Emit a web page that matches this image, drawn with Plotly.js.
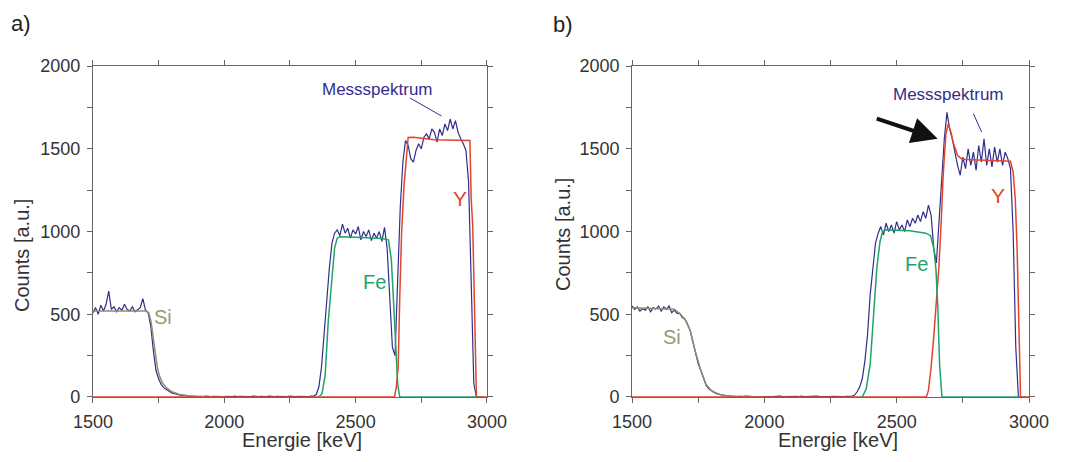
<!DOCTYPE html>
<html>
<head>
<meta charset="utf-8">
<script src="https://cdn.plot.ly/plotly-3.0.1.min.js"></script>
<style>html,body{margin:0;padding:0;background:#fff;}#chart{width:1066px;height:462px;}</style>
</head>
<body>
<div id="chart"></div>
<script>
// Measured spectra: channels start at 1500 keV, 10 keV per channel
var channelStart = 1500;
var channelStep = 10;

var measuredA = [
  510,540,500,555,520,560,640,530,545,515,
  540,525,560,530,520,545,515,530,540,595,
  525,510,430,280,160,110,75,55,45,30,
  25,20,15,12,8,10,5,6,4,5,
  3,4,2,5,3,2,4,3,5,2,
  3,4,2,3,5,2,4,3,2,4,
  3,5,2,3,4,2,3,5,3,2,
  4,3,2,4,3,5,2,3,4,3,
  2,4,3,5,5,15,60,180,380,600,
  780,930,990,1010,975,1045,990,1020,960,1010,
  985,1030,950,1000,970,1010,945,990,960,1000,
  940,1025,900,600,300,250,700,1150,1420,1550,
  1520,1440,1420,1490,1530,1500,1570,1590,1560,1620,
  1600,1540,1620,1580,1650,1610,1680,1620,1670,1600,
  1560,1530,1490,1300,700,80,0,0,0,0
];

var measuredB = [
  550,530,545,520,535,525,545,515,540,530,
  550,520,545,530,550,510,525,505,505,480,
  470,440,400,330,270,200,160,110,70,50,
  38,28,20,15,10,8,7,5,4,5,
  3,4,2,5,3,4,2,3,5,3,
  2,4,3,2,4,3,5,2,3,4,
  3,2,4,3,5,2,3,4,2,3,
  5,3,2,4,3,2,4,3,5,3,
  2,4,3,5,10,30,60,110,220,380,
  620,800,930,990,1030,980,1050,1000,1040,990,
  1060,1010,1040,1000,1070,1030,1080,1050,1100,1060,
  1120,1080,1160,1100,900,810,1050,1350,1560,1720,
  1620,1560,1470,1400,1340,1450,1380,1500,1400,1480,
  1370,1520,1420,1560,1400,1500,1390,1510,1420,1500,
  1400,1480,1440,1380,1000,300,0,0,0,0
];

// Simulated element contributions, panel a)
var siA_E = [1500,1700,1712,1722,1730,1738,1746,1755,1765,1780,1800,1830,1870,1920,2000];
var siA_C = [520,520,510,450,350,250,170,120,85,55,32,15,6,2,0];
var feA_E = [2360,2372,2384,2396,2408,2420,2430,2440,2500,2600,2625,2636,2645,2652,2660,2668,2965];
var feA_C = [0,20,130,460,680,900,960,968,965,958,950,830,560,300,80,0,0];
var yA_E = [1500,2648,2655,2662,2668,2675,2684,2692,2700,2720,2800,2935,2940,2946,2953,2960,3000];
var yA_C = [0,0,60,181,600,988,1270,1451,1568,1570,1555,1550,1200,1028,383,0,0];

// Simulated element contributions, panel b)
var siB_E = [1500,1660,1680,1700,1720,1740,1760,1780,1800,1830,1870,1950,2000];
var siB_C = [540,530,505,470,400,270,160,75,38,15,5,1,0];
var feB_E = [2370,2385,2400,2412,2425,2437,2447,2460,2550,2610,2628,2640,2648,2655,2662,2671,2965];
var feB_C = [0,50,200,500,780,940,1000,1010,1005,990,975,900,780,560,200,0,0];
var yB_E = [1500,2612,2620,2630,2640,2650,2660,2668,2676,2686,2695,2705,2715,2730,2745,2760,2930,2940,2948,2955,2962,2968,3000];
var yB_C = [0,0,40,180,360,560,800,1050,1350,1590,1650,1600,1530,1460,1440,1435,1425,1360,1200,900,380,0,0];

var cBlue = '#322e8c', cRed = '#e2452c', cGreen = '#1fa36b', cSi = '#8f8d6e';
var FONT = 'Liberation Sans, Arial, sans-serif';

function tr(x, y, color, w, xa, ya) {
  return {x: x, y: y, type: 'scatter', mode: 'lines', line: {color: color, width: w}, xaxis: xa, yaxis: ya, hoverinfo: 'skip', showlegend: false};
}
function meas(vals, xa, ya) {
  return {x0: channelStart, dx: channelStep, y: vals, type: 'scatter', mode: 'lines', line: {color: cBlue, width: 1.2}, xaxis: xa, yaxis: ya, hoverinfo: 'skip', showlegend: false};
}

var data = [
  meas(measuredA, 'x', 'y'),
  tr(siA_E, siA_C, cSi, 1.5, 'x', 'y'),
  tr(yA_E, yA_C, cRed, 1.5, 'x', 'y'),
  tr(feA_E, feA_C, cGreen, 1.5, 'x', 'y'),
  meas(measuredB, 'x2', 'y2'),
  tr(siB_E, siB_C, cSi, 1.5, 'x2', 'y2'),
  tr(yB_E, yB_C, cRed, 1.5, 'x2', 'y2'),
  tr(feB_E, feB_C, cGreen, 1.5, 'x2', 'y2')
];

function xax(dom, anchor) {
  return {domain: dom, anchor: anchor, range: [1500, 3000], dtick: 500, tick0: 1500,
    showline: true, linecolor: '#666', linewidth: 1, mirror: 'ticks',
    ticks: 'outside', ticklen: 5, tickcolor: '#666', showgrid: false, zeroline: false,
    minor: {dtick: 250, ticks: 'outside', ticklen: 5, tickcolor: '#666'},
    ticklabelstandoff: 3,
    tickfont: {family: FONT, size: 18, color: '#333'}, fixedrange: true};
}
function yax(anchor) {
  return {domain: [0.1407, 0.857], anchor: anchor, range: [0, 2000], dtick: 500,
    showline: true, linecolor: '#666', linewidth: 1, mirror: 'ticks',
    ticks: 'outside', ticklen: 5, tickcolor: '#666', showgrid: false, zeroline: false,
    minor: {dtick: 250, ticks: 'outside', ticklen: 5, tickcolor: '#666'},
    ticklabelstandoff: 3,
    tickfont: {family: FONT, size: 18, color: '#333'}, fixedrange: true};
}

function txt(x, y, s, color, size, xr, yr, angle) {
  return {x: x, y: y, xref: xr, yref: yr, text: s, showarrow: false, xanchor: 'center', yanchor: 'middle',
    textangle: angle || 0, font: {family: FONT, size: size, color: color}};
}
function seg(x0, y0, x1, y1, xr, yr, color, w) {
  return {type: 'line', x0: x0, y0: y0, x1: x1, y1: y1, xref: xr, yref: yr, line: {color: color, width: w}};
}
// paper fractions from pixel positions
function px(x) { return x / 1066; }
function py(y) { return 1 - y / 462; }

var annotations = [
  txt(px(21), py(23), 'a)', '#222', 22, 'paper', 'paper'),
  txt(px(563), py(24), 'b)', '#222', 22, 'paper', 'paper'),
  txt(px(22), py(256), 'Counts [a.u.]', '#333', 20, 'paper', 'paper', -90),
  txt(px(563), py(235), 'Counts [a.u.]', '#333', 20, 'paper', 'paper', -90),
  txt(px(302), py(440), 'Energie [keV]', '#333', 20, 'paper', 'paper'),
  txt(px(838), py(440), 'Energie [keV]', '#333', 20, 'paper', 'paper'),
  txt(2585, 1860, 'Messspektrum', cBlue, 17, 'x', 'y'),
  txt(2897, 1200, 'Y', cRed, 21, 'x', 'y'),
  txt(2573, 695, 'Fe', cGreen, 20, 'x', 'y'),
  txt(1767, 483, 'Si', '#9a9877', 20, 'x', 'y'),
  txt(2695, 1830, 'Messspektrum', cBlue, 17, 'x2', 'y2'),
  txt(2884, 1218, 'Y', cRed, 21, 'x2', 'y2'),
  txt(2576, 805, 'Fe', cGreen, 20, 'x2', 'y2'),
  txt(1651, 362, 'Si', '#9a9877', 20, 'x2', 'y2'),
  {x: 2655, y: 1560, xref: 'x2', yref: 'y2', ax: 2419, ay: 1685, axref: 'x2', ayref: 'y2', text: '', showarrow: true, arrowhead: 2, arrowsize: 1.3, arrowwidth: 4, arrowcolor: '#111'}
];

var shapes = [
  seg(2707, 1807, 2827, 1698, 'x', 'y', cBlue, 1),
  seg(2790, 1712, 2821, 1601, 'x2', 'y2', cBlue, 1)
];

var layout = {
  width: 1066, height: 462,
  margin: {l: 0, r: 0, t: 0, b: 0},
  paper_bgcolor: '#fff', plot_bgcolor: '#fff',
  showlegend: false,
  xaxis: xax([0.0872, 0.4568], 'y'),
  yaxis: yax('x'),
  xaxis2: xax([0.5929, 0.9653], 'y2'),
  yaxis2: yax('x2'),
  annotations: annotations,
  shapes: shapes
};

Plotly.newPlot('chart', data, layout, {displayModeBar: false, staticPlot: true});
</script>
</body>
</html>
